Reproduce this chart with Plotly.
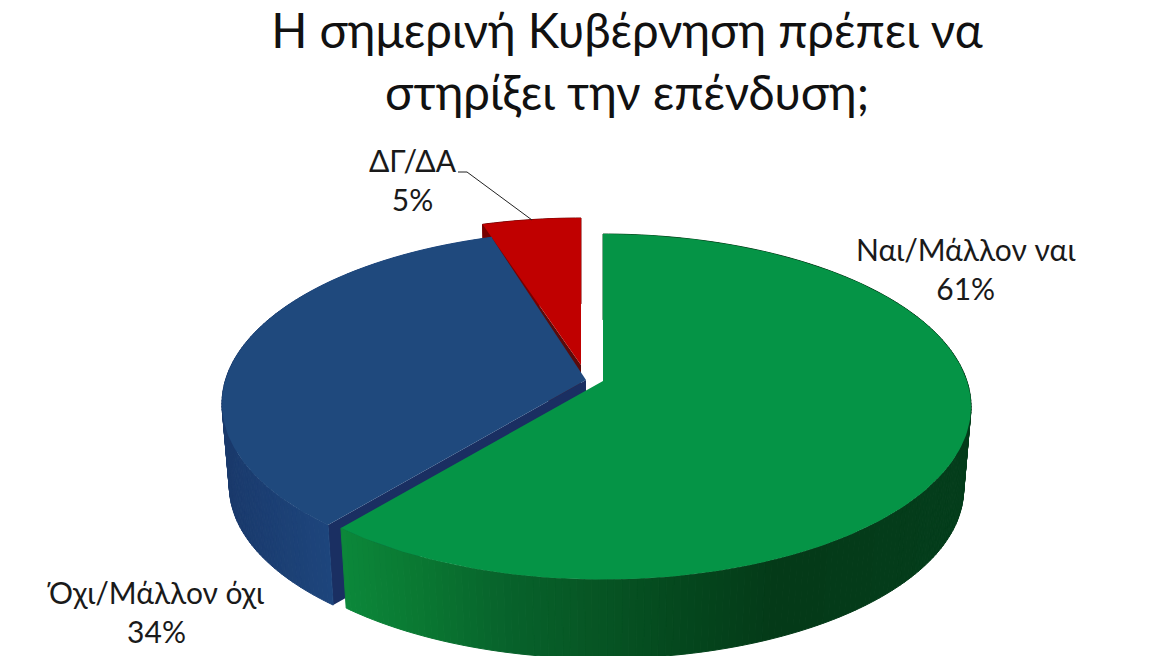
import numpy as np
import plotly.graph_objects as go

# Data
categories = ["Ναι/Μάλλον ναι", "Όχι/Μάλλον όχι", "ΔΓ/ΔΑ"]
shares = [61, 34, 5]
title_lines = ["Η σημερινή Κυβέρνηση πρέπει να", "στηρίξει την επένδυση;"]

# Pie geometry, in picture pixels (axes below run 0-1168 and 656-0)
A = 363.9      # half width of the disc
B = 168.9      # half height of the disc
K = 0.149      # perspective: far side smaller
DEPTH = 83.0
BOTTOM_SCALE = 0.98
centers = [(603, 381), (590, 378), (581, 365)]
apexes = [(603, 381), (586, 380), (581, 365)]

top_colors = ["#059446", "#1f497d", "#c00000"]
inner_colors = [None, "#1a2f62", "#5c0a0a"]
# wall shading: x position -> rgb
wall_stops = [
    ([346, 420, 500, 600, 680, 780, 970],
     [(12, 135, 58), (10, 120, 50), (8, 100, 44), (7, 85, 36), (5, 72, 30), (4, 58, 24), (5, 62, 28)]),
    ([222, 330], [(26, 58, 108), (30, 70, 125)]),
    ([0, 1168], [(120, 0, 0), (120, 0, 0)]),
]


def rim(theta, center, bottom=False):
    """Project points of the disc edge, theta clockwise from the top in radians"""
    scale = 1 / (1 + K * np.cos(theta))
    x = A * np.sin(theta) * scale
    y = -B * np.cos(theta) * scale
    if bottom:
        return center[0] + x * BOTTOM_SCALE, center[1] + y * BOTTOM_SCALE + DEPTH
    return center[0] + x, center[1] + y


def wall_color(x, stops):
    xs, cols = stops
    rgb = [np.interp(x, xs, [c[i] for c in cols]) for i in range(3)]
    return "rgb(%d,%d,%d)" % tuple(rgb)


def add_poly(fig, xs, ys, color, line=0):
    fig.add_trace(go.Scatter(
        x=list(xs), y=list(ys),
        mode="lines",
        fill="toself",
        fillcolor=color,
        line=dict(color=color, width=line),
        hoverinfo="skip",
        showlegend=False,
    ))


fig = go.Figure()

# Slices run clockwise from the top; turn shares into angle limits
edges = np.radians(np.cumsum([0] + shares) * 3.6)

# Back to front: red, blue, green
for i in [2, 1, 0]:
    start, end = edges[i], edges[i + 1]
    center = centers[i]
    apex = apexes[i]
    thetas = np.linspace(start, end, max(int(np.degrees(end - start)), 2) + 1)

    # cut face that looks at the viewer
    if inner_colors[i]:
        rx, ry = rim(start, center)
        bx, by = rim(start, center, bottom=True)
        add_poly(fig,
                 [apex[0], rx, bx, apex[0], apex[0]],
                 [apex[1], ry, by, apex[1] + DEPTH, apex[1]],
                 inner_colors[i])

    # outer wall as thin strips for the shading
    for t0, t1 in zip(thetas[:-1], thetas[1:]):
        x0, y0 = rim(t0, center)
        x1, y1 = rim(t1, center)
        x2, y2 = rim(t1, center, bottom=True)
        x3, y3 = rim(t0, center, bottom=True)
        add_poly(fig, [x0, x1, x2, x3, x0], [y0, y1, y2, y3, y0],
                 wall_color((x0 + x1) / 2, wall_stops[i]), line=1)

    # top face
    tx, ty = rim(np.linspace(start, end, 200), center)
    add_poly(fig, [apex[0], *tx, apex[0]], [apex[1], *ty, apex[1]], top_colors[i])

# Leader line of the small slice
fig.add_trace(go.Scatter(
    x=[458, 467, 532], y=[172, 172, 220],
    mode="lines",
    line=dict(color="#222222", width=1),
    hoverinfo="skip",
    showlegend=False,
))

label_pos = [(965, 268), (155, 611), (413, 179)]
annotations = []
for name, share, (lx, ly) in zip(categories, shares, label_pos):
    annotations.append(dict(
        x=lx, y=ly, xref="x", yref="y",
        text=f"{name}<br>{share}%",
        showarrow=False,
        align="center",
        font=dict(size=30, color="#1a1a1a"),
    ))

fig.update_layout(
    title=dict(
        text="<br>".join(title_lines),
        x=627 / 1168, xanchor="center",
        y=1 - 48 / 656, yanchor="middle",
        font=dict(family="Lato", size=47.4, color="#111111"),
    ),
    font=dict(family="Lato"),
    width=1168,
    height=656,
    margin=dict(l=0, r=0, t=0, b=0),
    paper_bgcolor="white",
    plot_bgcolor="white",
    xaxis=dict(range=[0, 1168], visible=False, fixedrange=True),
    yaxis=dict(range=[656, 0], visible=False, fixedrange=True),
    annotations=annotations,
    showlegend=False,
)

fig.write_html("out.html", post_script="document.body.style.margin='0';",
               config=dict(displayModeBar=False))
